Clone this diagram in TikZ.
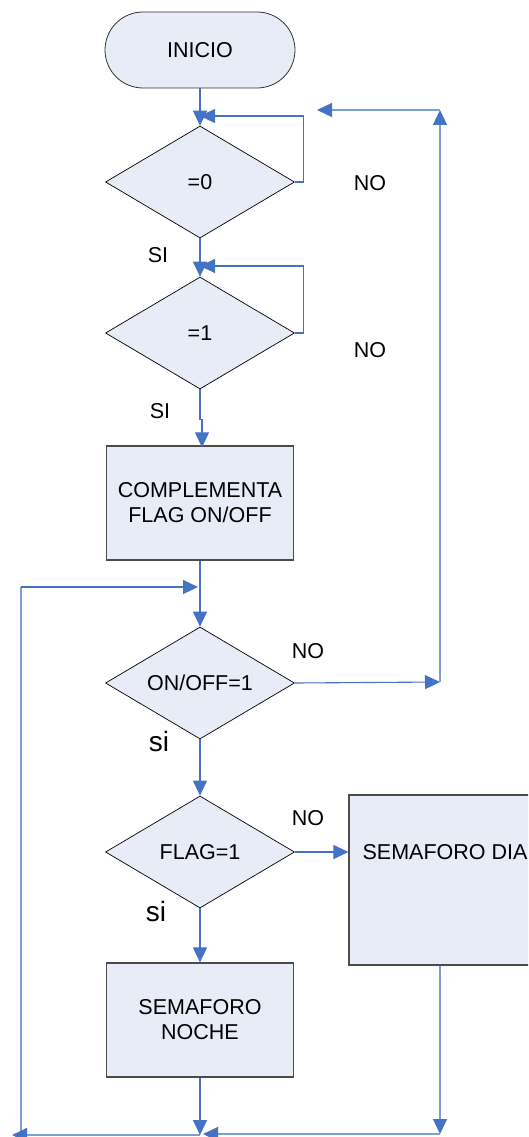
\documentclass[tikz,border=0pt]{standalone}
\usepackage{fontspec}
\setmainfont{Liberation Sans}
\usetikzlibrary{arrows.meta,shapes.geometric}
\definecolor{fillb}{RGB}{231,236,247}
\definecolor{lineb}{RGB}{68,114,196}
\definecolor{lineb2}{RGB}{125,158,214}
\begin{document}
\begin{tikzpicture}[x=1pt,y=-1pt,
 every node/.style={font=\fontsize{21.5}{25}\selectfont, inner sep=0pt},
 terminal/.style={draw=black!80, fill=fillb, rounded corners=38pt, minimum width=190pt, minimum height=76pt, line width=0.8pt},
 decision/.style={draw=black, fill=fillb, diamond, aspect=1.7, minimum width=189pt, minimum height=112pt, line width=0.7pt},
 procbox/.style={draw=black!70, fill=fillb, rectangle, minimum width=187pt, minimum height=114pt, line width=1.2pt, align=center},
 conn/.style={draw=lineb, line width=1.1pt},
 connl/.style={draw=lineb2, line width=1.3pt},
 tip/.style={-{Triangle[length=15pt,width=14pt,color=lineb]}},
 biglbl/.style={font=\fontsize{28}{32}\selectfont}]
\useasboundingbox (0,0) rectangle (528,1137);
\clip (0,0) rectangle (528,1137);
% nodes
\node[terminal] (ini) at (200,50) {INICIO};
\node[decision] (d1) at (200,182) {=0};
\node[decision] (d2) at (200,333) {=1};
\node[procbox] (b1) at (200,503) {COMPLEMENTA\\FLAG ON/OFF};
\node[decision] (d3) at (200,683) {ON/OFF=1};
\node[decision] (d4) at (200,852) {FLAG=1};
\node[procbox, minimum width=192pt, minimum height=170pt] (bd) at (445,880) {};
\node (bdt) at (445,852) {SEMAFORO DIA};
\node[procbox] (b3) at (200,1020) {SEMAFORO\\NOCHE};
% labels
\node (no1) at (370,183) {NO};
\node (si1) at (158,255) {SI};
\node (no2) at (370,350) {NO};
\node (si2) at (160,411) {SI};
\node (no3) at (308,651) {NO};
\node[biglbl] (si3) at (159,741) {si};
\node (no4) at (308,818) {NO};
\node[biglbl] (si4) at (156,911) {si};
% coordinates
\coordinate (j1) at (200,116);
\coordinate (j2) at (200,266);
\coordinate (m) at (198,587);
\coordinate (bot) at (200,1135);
\coordinate (ll) at (21,1135);
\coordinate (lt) at (21,587);
\coordinate (rt) at (440,110);
\coordinate (rb) at (440,682);
\coordinate (nt) at (317,110);
\coordinate (lend) at (12,1135);
\coordinate (rend) at (440,1134);
\coordinate (bend) at (203,1134);
% connectors
\draw[conn,tip] (ini.south) -- (d1.north);
\draw[conn,tip] (d1.east) -- ++(9,0) |- (j1);
\draw[conn,tip] (d1.south) -- (d2.north);
\draw[conn,tip] (d2.east) -- ++(9,0) |- (j2);
\draw[conn,tip] (d2.south) -- ++(0,30) -- ++(2,0) -- ++(0,28);
\draw[conn,tip] (b1.south) -- (d3.north);
\draw[connl] (ll) -- (lt);
\draw[conn,tip] (lt) -- (m);
\draw[conn,tip] (d3.east) -- (rb);
\draw[connl,tip] (rb) -- (rt);
\draw[connl,tip] (rt) -- (nt);
\draw[conn,tip] (d3.south) -- (d4.north);
\draw[conn,tip] (d4.east) -- (d4.east -| bd.west);
\draw[conn,tip] (d4.south) -- (b3.north);
\draw[conn,tip] (b3.south) -- (bot);
\draw[connl,tip] (rend |- bd.south) -- (rend);
\draw[connl,tip] (rend) -- (bend);
\draw[connl,tip] (bot) -- (lend);
\end{tikzpicture}
\end{document}
